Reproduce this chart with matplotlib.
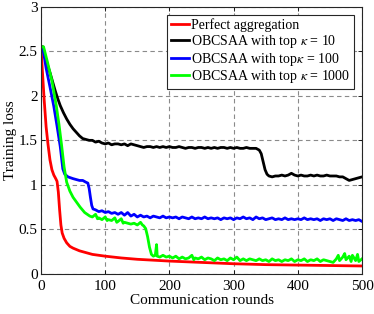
import matplotlib
matplotlib.use("Agg")
import matplotlib.pyplot as plt

# ---------------- data ----------------
red_x = [0, 2, 5, 8, 11, 14, 17, 20, 23, 25, 27, 29, 31, 33, 36, 40, 45, 50, 60, 70, 80, 100,
         125, 150, 200, 250, 300, 350, 400, 450, 500]
red_y = [2.55, 2.3, 1.95, 1.65, 1.45, 1.28, 1.17, 1.11, 1.07, 1.04, 0.92, 0.72, 0.55, 0.46, 0.40,
         0.35, 0.31, 0.29, 0.26, 0.24, 0.22, 0.20, 0.18, 0.165, 0.145, 0.13, 0.115, 0.105, 0.10,
         0.095, 0.09]

black_x = [0, 3, 6, 10, 14, 18, 22, 26, 30, 35, 40, 45, 50, 55, 60, 65, 70, 75, 80, 85, 90, 95,
           100, 105, 110, 115, 120, 125, 130, 135, 140, 145, 150, 155, 160, 165, 170, 175, 180,
           185, 190, 195, 200, 205, 210, 215, 220, 225, 230, 235, 240, 245, 250, 255, 260, 265,
           270, 275, 280, 285, 290, 295, 300, 305, 310, 315, 320, 325, 330, 335, 340, 343, 346,
           349, 352, 355, 360, 365, 370, 375, 380, 385, 390, 395, 400, 405, 410, 415, 420, 425,
           430, 435, 440, 445, 450, 455, 460, 465, 470, 475, 480, 485, 490, 495, 500]
black_y = [2.55, 2.55, 2.45, 2.35, 2.26, 2.16, 2.06, 1.97, 1.89, 1.81, 1.74, 1.68, 1.63, 1.59,
           1.55, 1.52, 1.51, 1.50, 1.50, 1.48, 1.49, 1.47, 1.46, 1.47, 1.45, 1.46, 1.46, 1.45,
           1.46, 1.44, 1.46, 1.45, 1.44, 1.43, 1.42, 1.43, 1.43, 1.42, 1.43, 1.42, 1.43, 1.42,
           1.43, 1.42, 1.42, 1.43, 1.42, 1.41, 1.42, 1.42, 1.41, 1.42, 1.42, 1.41, 1.42, 1.41,
           1.42, 1.41, 1.42, 1.42, 1.41, 1.42, 1.41, 1.42, 1.41, 1.41, 1.42, 1.41, 1.41, 1.41,
           1.39, 1.35, 1.26, 1.17, 1.12, 1.10, 1.09, 1.10, 1.10, 1.11, 1.10, 1.11, 1.13, 1.11,
           1.10, 1.11, 1.10, 1.10, 1.11, 1.10, 1.11, 1.10, 1.10, 1.11, 1.10, 1.10, 1.10, 1.09,
           1.09, 1.07, 1.05, 1.06, 1.07, 1.08, 1.09]

blue_x = [0, 3, 8, 14, 20, 25, 30, 34, 37, 42, 50, 55, 60, 65, 70, 73, 75, 77, 79, 81,
          85, 90, 95, 100, 105, 110, 115, 120, 125, 130, 135, 140, 145, 150, 155, 160, 165, 170,
          175, 180, 185, 190, 195, 200, 205, 210, 215, 220, 225, 230, 235, 240, 245, 250, 255,
          260, 265, 270, 275, 280, 285, 290, 295, 300, 305, 310, 315, 320, 325, 330, 335, 340,
          345, 350, 355, 360, 365, 370, 375, 380, 385, 390, 395, 400, 405, 410, 415, 420, 425,
          430, 435, 440, 445, 450, 455, 460, 465, 470, 475, 480, 485, 490, 495, 500]
blue_y = [2.55, 2.53, 2.31, 2.10, 1.88, 1.66, 1.43, 1.18, 1.12, 1.09, 1.07, 1.06, 1.05, 1.05,
          1.03, 1.02, 0.96, 0.86, 0.77, 0.73,
          0.72, 0.70, 0.71, 0.69, 0.70, 0.68, 0.69, 0.67, 0.69, 0.66, 0.69, 0.65, 0.67, 0.64,
          0.66, 0.64, 0.65, 0.63, 0.65, 0.64, 0.63, 0.65, 0.63, 0.64, 0.63, 0.64, 0.62, 0.64,
          0.63, 0.62, 0.64, 0.62, 0.63, 0.62, 0.64, 0.62, 0.63, 0.62, 0.63, 0.61, 0.63, 0.62,
          0.63, 0.61, 0.63, 0.62, 0.64, 0.62, 0.63, 0.61, 0.64, 0.62, 0.63, 0.61, 0.62, 0.63,
          0.61, 0.62, 0.61, 0.63, 0.61, 0.62, 0.61, 0.62, 0.61, 0.63, 0.61, 0.62, 0.61, 0.62,
          0.60, 0.62, 0.61, 0.62, 0.60, 0.62, 0.61, 0.60, 0.62, 0.60, 0.61, 0.60, 0.61, 0.59]

green_x = [0, 4, 10, 17, 24, 28, 32, 36, 40, 45, 50, 55, 61, 68, 76, 80, 85, 88, 90, 95, 100,
           103, 105, 110, 115, 118, 120, 125, 128, 130, 135, 140, 145, 150, 155, 158, 160, 163,
           166, 169, 172, 175, 178, 180, 181, 185, 190, 195, 200, 205, 210, 215, 220, 225, 230,
           235, 238, 240, 245, 250, 255, 260, 265, 270, 275, 280, 285, 290, 295, 300, 305, 310,
           315, 320, 325, 330, 335, 340, 345, 350, 355, 360, 365, 370, 375, 380, 385, 390, 395,
           400, 405, 410, 415, 420, 425, 430, 435, 440, 445, 450, 455, 460, 463, 465, 470, 473,
           475, 480, 483, 485, 490, 493, 495, 500]
green_y = [2.55, 2.55, 2.38, 2.17, 1.88, 1.68, 1.45, 1.20, 1.03, 0.93, 0.86, 0.81, 0.75, 0.69,
           0.65, 0.64, 0.67, 0.62, 0.63, 0.61, 0.64, 0.60, 0.61, 0.60, 0.63, 0.58, 0.59, 0.62,
           0.57, 0.58, 0.57, 0.56, 0.57, 0.55, 0.58, 0.55, 0.54, 0.51, 0.42, 0.30, 0.22, 0.20,
           0.21, 0.33, 0.20, 0.19, 0.21, 0.19, 0.20, 0.18, 0.20, 0.17, 0.19, 0.17, 0.18, 0.21,
           0.16, 0.18, 0.17, 0.19, 0.16, 0.18, 0.17, 0.15, 0.18, 0.16, 0.17, 0.15, 0.18, 0.16,
           0.19, 0.15, 0.17, 0.15, 0.17, 0.16, 0.15, 0.17, 0.15, 0.16, 0.14, 0.17, 0.15, 0.16,
           0.14, 0.16, 0.15, 0.17, 0.14, 0.16, 0.15, 0.17, 0.14, 0.16, 0.15, 0.17, 0.14, 0.16,
           0.15, 0.14, 0.13, 0.17, 0.21, 0.15, 0.19, 0.23, 0.16, 0.20, 0.14, 0.21, 0.15, 0.22,
           0.14, 0.17]

labels = ["Perfect aggregation",
          r"OBCSAA with top $\kappa$ = 10",
          r"OBCSAA with top$\kappa$ = 100",
          r"OBCSAA with top $\kappa$ = 1000"]
xticks = [0, 100, 200, 300, 400, 500]
yticks = [0, 0.5, 1, 1.5, 2, 2.5, 3]
ytick_labels = ["0", "0.5", "1", "1.5", "2", "2.5", "3"]

# ---------------- style ----------------
plt.rcParams['font.family'] = ['Liberation Serif', 'DejaVu Serif']
plt.rcParams['mathtext.fontset'] = 'stix'

fig = plt.figure(figsize=(3.74, 3.14), dpi=100)
ax = fig.add_axes([0.1096, 0.1274, 0.8584, 0.8513])

series = [(red_x, red_y, '#ff0000'), (black_x, black_y, '#000000'),
          (blue_x, blue_y, '#0000ff'), (green_x, green_y, '#00ff00')]
for (xs, ys, c), lab in zip(series, labels):
    ax.plot(xs, ys, color=c, lw=2.0, label=lab, solid_joinstyle='round')

ax.set_xlim(0, 500)
ax.set_ylim(0, 3)
ax.set_xticks(xticks)
ax.set_yticks(yticks)
ax.set_yticklabels(ytick_labels)
ax.grid(True, linestyle=(0, (4, 3)), color='#8a8a8a', linewidth=0.8)
ax.tick_params(direction='in', top=True, right=True, labelsize=11, length=3, width=0.6)
ax.tick_params(axis='y', pad=2.5)
ax.tick_params(axis='x', pad=4)
for s in ax.spines.values():
    s.set_linewidth(0.8)
    s.set_color('#262626')

ax.set_xlabel("Communication rounds", fontsize=11, labelpad=1)
ax.set_ylabel("Training loss", fontsize=11, labelpad=1)

leg = ax.legend(loc='upper right', fontsize=10, frameon=True, fancybox=False,
                edgecolor='#262626', framealpha=1, handlelength=1.3, handletextpad=0.15,
                borderpad=0.25, labelspacing=0.05, borderaxespad=0.6)
leg.get_frame().set_linewidth(0.8)

fig.savefig("out.png", dpi=100)
